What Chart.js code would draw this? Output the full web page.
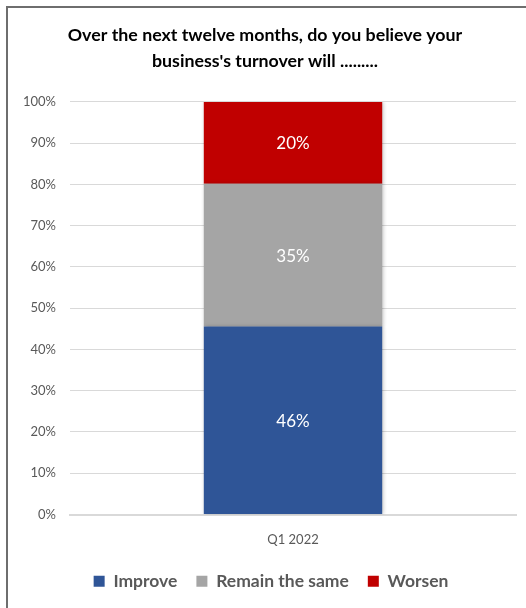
<!DOCTYPE html>
<html>
<head>
<meta charset="utf-8">
<script src="https://cdn.jsdelivr.net/npm/chart.js@4/dist/chart.umd.min.js"></script>
<style>
  html, body { margin: 0; padding: 0; background: #fff; }
  #wrap { position: relative; width: 526px; height: 608px; }
  #frame { position: absolute; left: 6px; top: 6px; width: 530px; height: 610px;
           border-left: 2px solid #6e6e6e; border-top: 2px solid #6e6e6e; box-sizing: border-box; }
  canvas { position: absolute; left: 0; top: 0; }
</style>
</head>
<body>
<div id="wrap">
  <div id="frame"></div>
  <canvas id="c" width="526" height="608"></canvas>
</div>
<script>
const titleLines = ["Over the next twelve months, do you believe your", "business's turnover will ........."];
const categories = ["Q1 2022"];
const seriesNames = ["Improve", "Remain the same", "Worsen"];
const improve = [46];
const remainSame = [35];
const worsen = [20];
const seriesColors = ["#2f5597", "#a5a5a5", "#c00000"];
const yTickLabels = ["0%", "10%", "20%", "30%", "40%", "50%", "60%", "70%", "80%", "90%", "100%"];

const rawSeries = [improve, remainSame, worsen];
const totals = categories.map((_, i) => rawSeries.reduce((s, arr) => s + arr[i], 0));
const FONT = "Lato, 'Open Sans', sans-serif";

const datasets = rawSeries.map((arr, k) => ({
  label: seriesNames[k],
  data: arr.map((v, i) => v / totals[i] * 100),
  raw: arr,
  backgroundColor: seriesColors[k],
  borderWidth: 0,
  barPercentage: 0.4,
  categoryPercentage: 1.0
}));

const shadowPlugin = {
  id: 'barShadow',
  beforeDatasetsDraw(chart) {
    const ctx = chart.ctx;
    ctx.save();
    ctx.shadowColor = 'rgba(0,0,0,0.28)';
    ctx.shadowBlur = 4;
    ctx.shadowOffsetX = 1;
    ctx.shadowOffsetY = 0;
  },
  afterDatasetsDraw(chart) {
    chart.ctx.restore();
  }
};

const labelPlugin = {
  id: 'segLabels',
  afterDatasetsDraw(chart) {
    const ctx = chart.ctx;
    ctx.save();
    ctx.fillStyle = '#ffffff';
    ctx.font = "17px " + FONT;
    ctx.textAlign = 'center';
    ctx.textBaseline = 'middle';
    chart.data.datasets.forEach((ds, di) => {
      const meta = chart.getDatasetMeta(di);
      meta.data.forEach((bar, i) => {
        const p = bar.getProps(['x', 'y', 'base'], true);
        ctx.fillText(ds.raw[i] + '%', p.x, (p.y + p.base) / 2 + 1);
      });
    });
    ctx.restore();
  }
};

// nudge the title and legend horizontally to match the reference's centring
const nudgePlugin = {
  id: 'nudge',
  afterLayout(chart) {
    if (chart.legend) { chart.legend.left += 9; chart.legend.right += 9; }
    if (chart.titleBlock) { chart.titleBlock.left += 3; chart.titleBlock.right += 3; }
  }
};

new Chart(document.getElementById('c'), {
  type: 'bar',
  data: { labels: categories, datasets },
  plugins: [shadowPlugin, labelPlugin, nudgePlugin],
  options: {
    responsive: false,
    animation: false,
    layout: { padding: { left: 8, right: 10, top: 0, bottom: 8 } },
    plugins: {
      title: {
        display: true,
        text: titleLines,
        color: '#000000',
        font: { family: FONT, size: 17.8, weight: 'bold', lineHeight: 1.46 },
        padding: { top: 22, bottom: 28 }
      },
      legend: {
        position: 'bottom',
        labels: {
          color: '#595959',
          font: { family: FONT, size: 17.5, weight: 'bold' },
          boxWidth: 11,
          boxHeight: 11,
          padding: 19
        }
      },
      tooltip: { enabled: false }
    },
    scales: {
      x: {
        stacked: true,
        grid: { display: false, drawTicks: false },
        border: { display: true, color: '#d9d9d9', width: 2 },
        ticks: { color: '#595959', font: { family: FONT, size: 13 }, padding: 18 },
        afterFit(scale) { scale.height = 39; }
      },
      y: {
        stacked: true,
        min: 0,
        max: 100,
        grid: { color: '#d9d9d9', drawTicks: false },
        border: { display: false },
        ticks: {
          stepSize: 10,
          color: '#595959',
          font: { family: FONT, size: 13 },
          padding: 14,
          callback: (v) => yTickLabels[Math.round(v / 10)]
        },
        afterFit(scale) { scale.width = 62; }
      }
    }
  }
});
</script>
</body>
</html>
